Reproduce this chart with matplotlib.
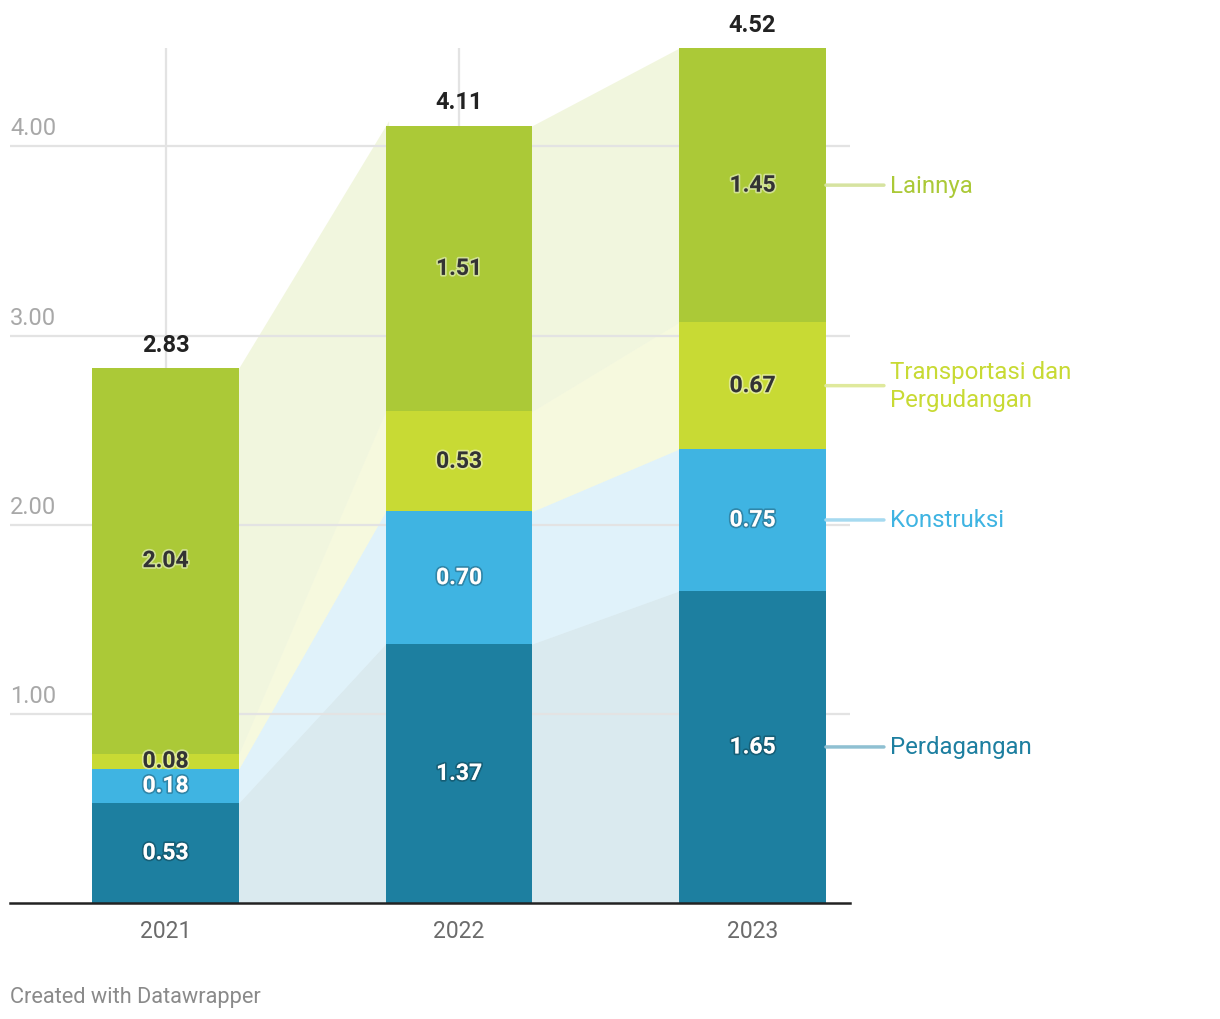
import matplotlib
matplotlib.use("Agg")
import matplotlib.pyplot as plt
import matplotlib.patheffects as pe
import numpy as np

years = ["2021", "2022", "2023"]
series = ["Perdagangan", "Konstruksi", "Transportasi dan\nPergudangan", "Lainnya"]
perdagangan = [0.53, 1.37, 1.65]
konstruksi = [0.18, 0.70, 0.75]
transportasi = [0.08, 0.53, 0.67]
lainnya = [2.04, 1.51, 1.45]
totals = [2.83, 4.11, 4.52]
y_ticks = [1.0, 2.0, 3.0, 4.0]

colors = ["#1d7fa0", "#3fb4e2", "#c8da34", "#abc937"]
legend_line_colors = ["#8fc0d2", "#a6daf0", "#dfe99c", "#d6e3a0"]
label_dark = [False, False, True, True]

plt.rcParams["font.family"] = ["Roboto", "DejaVu Sans"]

W, H = 1220, 1020
fig = plt.figure(figsize=(W / 100, H / 100), dpi=100)
left, right, top, bottom = 10, 850, 49, 904
ax = fig.add_axes([left / W, 1 - bottom / H, (right - left) / W, (bottom - top) / H])
x_lo, x_hi = -0.53, 2.332
ax.set_xlim(x_lo, x_hi)
ax.set_ylim(0, 4.52)
ax.axis("off")

x = np.arange(len(years))
width = 0.5
values = np.array([perdagangan, konstruksi, transportasi, lainnya])
cum = np.vstack([np.zeros(len(years)), np.cumsum(values, axis=0)])

# gridlines and y labels
for t in y_ticks:
    ax.plot([x_lo, x_hi], [t, t], color="#e3e3e3", lw=1.6, zorder=1.5)
    ax.annotate(f"{t:.2f}", xy=(x_lo, t), xytext=(0, 5), textcoords="offset points",
                ha="left", va="bottom", fontsize=17, color="#a8a8a8")
for xi in x:
    ax.plot([xi, xi], [0, 4.52], color="#e3e3e3", lw=1.6, zorder=0.5)

# connecting areas between bars (slightly tucked under the bars to avoid seams)
eps = 0.01
for i in range(len(years) - 1):
    xa, xb = x[i] + width / 2, x[i + 1] - width / 2
    xs = [xa - eps, xb + eps]
    for s in range(len(series)):
        k_lo = (cum[s][i + 1] - cum[s][i]) / (xb - xa)
        k_hi = (cum[s + 1][i + 1] - cum[s + 1][i]) / (xb - xa)
        lo = [cum[s][i] - k_lo * eps, cum[s][i + 1] + k_lo * eps]
        hi = [cum[s + 1][i] - k_hi * eps, cum[s + 1][i + 1] + k_hi * eps]
        ax.fill_between(xs, lo, hi, color=colors[s], alpha=0.16, lw=0, zorder=1)

# stacked bars with value labels
for s in range(len(series)):
    ax.bar(x, values[s], width, bottom=cum[s], color=colors[s], zorder=2, linewidth=0)
    for i in range(len(years)):
        mid = cum[s][i] + values[s][i] / 2
        if label_dark[s]:
            fc, halo = "#333333", (1, 1, 1, 0.45)
        else:
            fc, halo = "white", (0, 0, 0, 0.25)
        ax.text(x[i], mid, f"{values[s][i]:.2f}", ha="center", va="center",
                fontsize=16.5, fontweight="bold", color=fc, zorder=3,
                path_effects=[pe.withStroke(linewidth=2.5, foreground=halo)])

for i in range(len(years)):
    ax.annotate(f"{totals[i]:.2f}", xy=(x[i], totals[i]), xytext=(0, 17),
                textcoords="offset points", ha="center", va="center",
                fontsize=17, fontweight="bold", color="#222222", annotation_clip=False)
    ax.annotate(years[i], xy=(x[i], 0), xytext=(0, -20), textcoords="offset points",
                ha="center", va="center", fontsize=16.5, color="#6b6b6b",
                annotation_clip=False)

ax.plot([x_lo, x_hi], [0, 0], color="#222222", lw=1.8, zorder=4, clip_on=False)

# direct labels to the right of the last bar
last = len(years) - 1
for s in range(len(series)):
    mid = cum[s][last] + values[s][last] / 2
    x0 = x[last] + width / 2
    ax.annotate("", xy=(x0, mid), xytext=(58, 0), textcoords="offset pixels",
                annotation_clip=False,
                arrowprops=dict(arrowstyle="-", color=legend_line_colors[s], lw=2.5,
                                shrinkA=0, shrinkB=0))
    ax.annotate(series[s], xy=(x0, mid), xytext=(64, 0), textcoords="offset pixels",
                ha="left", va="center", fontsize=17.3, color=colors[s],
                linespacing=1.3, annotation_clip=False)

fig.text(10 / W, 1 - 998 / H, "Created with Datawrapper", ha="left", va="center",
         fontsize=15.7, color="#8a8a8a")

fig.savefig("out.png", dpi=100, facecolor="white")
